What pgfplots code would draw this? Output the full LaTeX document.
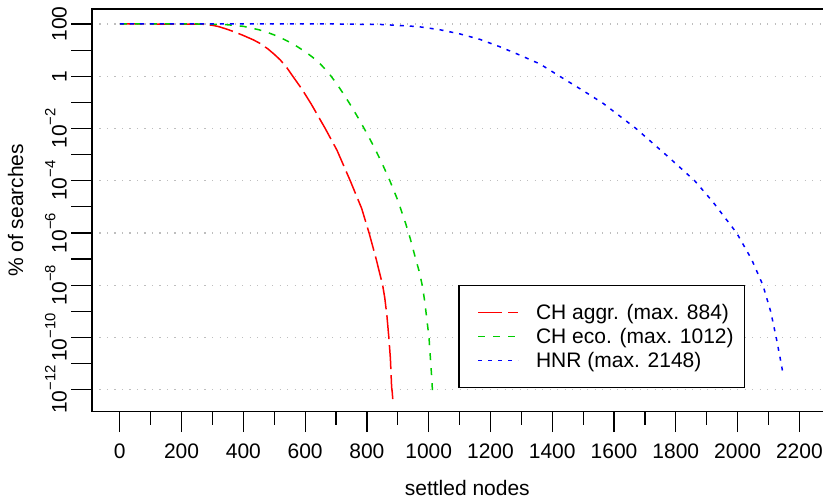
\documentclass[border=0pt]{standalone}
\usepackage{fontspec}
\setmainfont{Liberation Sans}
\usepackage{pgfplots}
\pgfplotsset{compat=1.18}
\definecolor{rred}{HTML}{FF0000}
\definecolor{rgreen}{HTML}{00CD00}
\definecolor{rblue}{HTML}{0000FF}
\definecolor{rgrid}{HTML}{BEBEBE}
% 10^-n set in the text font
\newcommand{\tenp}[1]{10\raisebox{5.6pt}{\fontsize{7.4pt}{8pt}\selectfont −#1}}

% percent of searches vs settled nodes
\pgfplotstableread{
x y
0 100
100 100
200 99.5
250 98.4
270 97.7
300 89.1
320 79.4
347 63.1
375 47.9
400 36.3
433 24.5
455 17.8
480 11.0
500 6.92
519 4.27
540 2.19
560 1
590 0.316
620 0.0851
665 0.01
703 1.48e-3
746 1e-4
783 8.7e-6
807 1e-6
830 1e-7
851 1e-8
858 3.16e-9
865 6.3e-10
871 1e-10
876 1.58e-11
880 1.26e-12
882 7.9e-13
884 4e-13
}\chaggr

\pgfplotstableread{
x y
0 100
250 100
300 97.7
350 93.3
400 81.3
450 60.3
475 49.0
500 38.0
525 28.2
550 20.0
575 13.5
600 8.71
625 5.25
650 2.88
675 1.38
700 0.562
725 0.204
750 0.0692
775 0.0219
800 6.46e-3
825 1.78e-3
850 4.37e-4
875 9.55e-5
900 1.78e-5
925 2.4e-6
940 6.3e-7
958 1e-7
970 3.16e-8
979 1e-8
987 2.5e-9
994 5e-10
1001 1e-10
1005 2e-11
1009 4e-12
1012 1e-12
1013 6.3e-13
}\checo

\pgfplotstableread{
x y
0 100
700 100
850 95.5
966 79.4
1036 60.3
1101 41.7
1166 25.7
1230 13.5
1295 6.46
1360 2.95
1424 1
1505 0.257
1565 0.0912
1671 0.01
1775 8.32e-4
1861 1e-4
1920 1.55e-5
1997 1e-6
2045 1e-7
2082 1e-8
2107 1e-9
2125 1e-10
2138 1.58e-11
2148 3.55e-12
}\hnr

\begin{document}
\fontsize{10.5pt}{12.6pt}\selectfont
\begin{tikzpicture}
\begin{axis}[
    scale only axis,
    width=375.3pt, height=201.35pt,
    xmin=-90, xmax=2340,
    ymode=log, ymin=1.439e-13, ymax=375,
    axis line style={line width=0.6pt},
    tick style={line width=0.6pt, black},
    tick align=outside,
    xtick pos=bottom, ytick pos=left,
    major tick length=10.25pt,
    minor tick length=6.5pt,
    xtick={0,200,...,2200},
    xticklabels={0,200,400,600,800,1000,1200,1400,1600,1800,2000,2200},
    minor xtick={100,300,...,2100},
    yminorticks=false,
    ytick={1e-12,1e-10,1e-8,1e-6,1e-4,1e-2,1,100},
    yticklabels={\tenp{12},\tenp{10},\tenp{8},\tenp{6},\tenp{4},\tenp{2},1,100},
    extra y ticks={1e-11,1e-9,1e-7,1e-5,1e-3,1e-1,10},
    extra y tick labels={},
    extra y tick style={grid=none},
    ymajorgrids,
    major grid style={rgrid, line width=0.6pt, dash pattern=on 0.6pt off 3.15pt},
    xticklabel style={anchor=base, yshift=-13.25pt},
    yticklabel style={xshift=-2.4pt, rotate=90, anchor=base},
    xlabel={settled nodes},
    xlabel style={at={(axis description cs:0.5,-0.209)}, anchor=base},
    ylabel={\% of searches},
    ylabel style={at={(axis description cs:-0.0919,0.5)}, anchor=base},
    legend cell align=left,
    legend style={at={(axis description cs:0.4882,0.3151)}, anchor=north west,
        draw=black, line width=0.6pt, fill=white,
        inner xsep=5.5pt, inner ysep=7.5pt, row sep=0pt, column sep=0pt,
        nodes={inner sep=0pt, text height=9.5pt, text depth=2.5pt}},
    legend image code/.code={\path[draw=none] (0pt,0pt) (33pt,0pt);
        \draw[#1] (4pt,0pt) -- (24pt,0pt);},
]
\addplot[rred, line width=0.75pt, dash pattern=on 12pt off 3pt] table[x=x, y=y] {\chaggr};
\addlegendentry{CH aggr. (max. 884)}
\addplot[rgreen, line width=0.75pt, dash pattern=on 3.5pt off 4pt] table[x=x, y=y] {\checo};
\addlegendentry{CH eco. (max. 1012)}
\addplot[rblue, line width=0.75pt, dash pattern=on 2pt off 3pt] table[x=x, y=y] {\hnr};
\addlegendentry{HNR (max. 2148)}
\end{axis}
\pgfresetboundingbox
\useasboundingbox (-46pt,-43.15pt) rectangle (365.5pt,205.85pt);
\end{tikzpicture}
\end{document}
